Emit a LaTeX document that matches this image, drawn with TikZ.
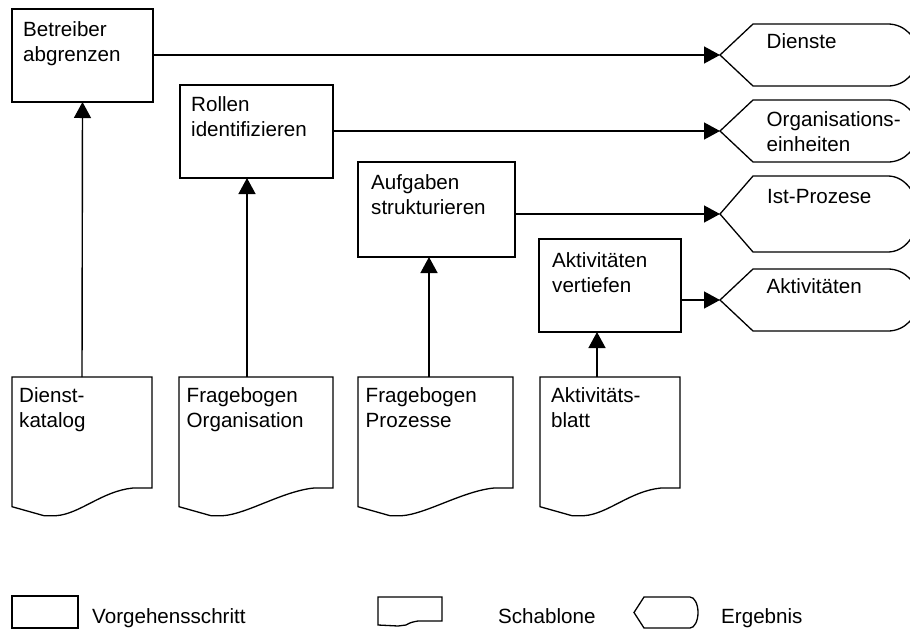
\documentclass[tikz,border=0pt]{standalone}
\usepackage{fontspec}
\setmainfont{Liberation Sans}
\usetikzlibrary{arrows.meta,calc}
\newcommand{\resultshape}[2]{%
  \pgfmathsetmacro\hm{(#1+#2)/2}%
  \pgfmathsetmacro\hk{0.552*(#2-#1)/2}%
  \draw[shp] (720,\hm) -- (753,#1) -- (888,#1)
    .. controls (904.6,#1) and (918,{\hm-\hk}) .. (918,\hm)
    .. controls (918,{\hm+\hk}) and (904.6,#2) .. (888,#2)
    -- (753,#2) -- cycle;}
\newcommand{\docoutline}[2]{% #1 node name, #2 width
  \draw[shp] (#1.north west) -- (#1.north east) -- ($(#1.north west)+(#2,111)$)
    -- ($(#1.north west)+(#2-19,111)$)
    .. controls ($(#1.north west)+(#2-50,114)$) and ($(#1.north west)+(68,137)$) .. ($(#1.north west)+(44,138.7)$)
    -- ($(#1.north west)+(32,138.7)$) -- ($(#1.north west)+(0,129.7)$) -- cycle;}
\begin{document}
\begin{tikzpicture}[x=1pt,y=-1pt,
  stepbox/.style={draw=black, line width=1.3pt, rectangle, inner sep=0pt, outer sep=0pt, anchor=north west},
  docframe/.style={draw=none, rectangle, inner sep=0pt, outer sep=0pt, anchor=north west, minimum height=139pt},
  txt/.style={inner sep=0pt, anchor=north west, align=left, font=\fontsize{20.6}{25}\selectfont},
  ltxt/.style={inner sep=0pt, anchor=base west, font=\fontsize{20.6}{25}\selectfont},
  shp/.style={draw=black, line width=1.3pt, line join=miter},
  arr/.style={line width=1.4pt, -{Triangle[length=16pt,width=17pt]}},
]
\useasboundingbox (0,0) rectangle (910,630);

% process steps
\node[stepbox, minimum width=141pt, minimum height=93pt] (betr) at (12,9) {};
\node[txt] (betrt) at ($(betr.north west)+(11,10)$) {\strut Betreiber\\abgrenzen};
\node[stepbox, minimum width=153pt, minimum height=93pt] (roll) at (180,85) {};
\node[txt] (rollt) at ($(roll.north west)+(11,8.5)$) {\strut Rollen\\identifizieren};
\node[stepbox, minimum width=157pt, minimum height=95pt] (aufg) at (358,162) {};
\node[txt] (aufgt) at ($(aufg.north west)+(13,9.5)$) {\strut Aufgaben\\strukturieren};
\node[stepbox, minimum width=142pt, minimum height=93pt] (vert) at (539,239) {};
\node[txt] (vertt) at ($(vert.north west)+(13,10.5)$) {\strut Aktivitäten\\vertiefen};

% templates
\node[docframe, minimum width=140pt] (dk) at (12,377) {};
\docoutline{dk}{140}
\node[txt] (dkt) at ($(dk.north west)+(7,7.5)$) {\strut Dienst-\\katalog};
\node[docframe, minimum width=154pt] (fo) at (179,377) {};
\docoutline{fo}{154}
\node[txt] (fot) at ($(fo.north west)+(7.5,7.5)$) {\strut Fragebogen\\Organisation};
\node[docframe, minimum width=155pt] (fp) at (358,377) {};
\docoutline{fp}{155}
\node[txt] (fpt) at ($(fp.north west)+(7.5,7.5)$) {\strut Fragebogen\\Prozesse};
\node[docframe, minimum width=140pt] (ab) at (540,377) {};
\docoutline{ab}{140}
\node[txt] (abt) at ($(ab.north west)+(11,7.5)$) {\strut Aktivitäts-\\blatt};

% results
\resultshape{24}{86}
\coordinate (r1) at (720,55);
\node[txt] (r1t) at (766.5,31) {\strut Dienste};
\resultshape{100}{162}
\coordinate (r2) at (720,131);
\node[txt] (r2t) at (766.5,108.5) {\strut Organisations-\\einheiten};
\resultshape{176}{252}
\coordinate (r3) at (720,214);
\node[txt] (r3t) at (767,185.5) {\strut Ist-Prozese};
\resultshape{269}{331}
\coordinate (r4) at (720,300);
\node[txt] (r4t) at (766.5,275.5) {\strut Aktivitäten};

% connectors
\draw[arr] (betr.east |- r1) -- (r1);
\draw[arr] (roll.east |- r2) -- (r2);
\draw[arr] (aufg.east |- r3) -- (r3);
\draw[arr] (vert.east |- r4) -- (r4);
\draw[arr] (dk.north) -- (betr.south);
\draw[arr] ([xshift=-9pt]fo.north) -- ([xshift=-9.5pt]roll.south);
\draw[arr] ([xshift=-6.5pt]fp.north) -- ([xshift=-7.5pt]aufg.south);
\draw[arr] ([xshift=-13pt]ab.north) -- ([xshift=-13pt]vert.south);

% legend
\node[stepbox, minimum width=66pt, minimum height=32pt] (lstep) at (12,596) {};
\node[ltxt] (lstept) at (92,623) {Vorgehensschritt};
\coordinate (ls) at (378,597);
\draw[shp] (ls) -- ++(64,0) -- ++(0,24) -- ++(-24,0)
  .. controls ++(-5,1) and ++(5,-3) .. ++(-12,4)
  -- ++(-8,1) -- ++(-20,-1) -- cycle;
\node[ltxt] (lschabt) at (498,623) {Schablone};
\draw[shp] (634,612.5) coordinate (le) -- (644,597) -- (690,597)
  .. controls (694.4,597) and (698,604) .. (698,612.5)
  .. controls (698,621) and (694.4,628) .. (690,628) -- (644,628) -- cycle;
\node[ltxt] (lergt) at (721,623) {Ergebnis};
\end{tikzpicture}
\end{document}
